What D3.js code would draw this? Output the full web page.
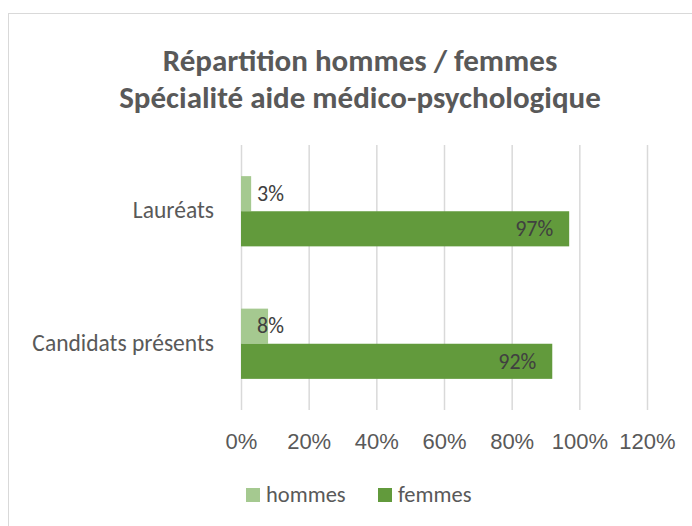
<!DOCTYPE html>
<html lang="fr">
<head>
<meta charset="UTF-8">
<title>Répartition hommes / femmes</title>
<script src="https://d3js.org/d3.v7.min.js"></script>
<style>
  body { margin: 0; background: #fff; }
  svg { font-family: Carlito, Lato, "Open Sans", sans-serif; }
  .grid line { stroke: #d9d9d9; stroke-width: 1.5; }
  .xaxis .tick text { fill: #595959; font-size: 22px; }
</style>
</head>
<body>
<svg width="692" height="526"></svg>
<script>
// données
const categories = ["Lauréats", "Candidats présents"];
const series = ["hommes", "femmes"];
const hommes = [0.03, 0.08];
const femmes = [0.97, 0.92];
const xTicks = [0, 0.2, 0.4, 0.6, 0.8, 1.0, 1.2];
const colors = ["#a5c990", "#629a3c"];

const svg = d3.select("svg");

// cadre du graphique
svg.append("rect")
  .attr("x", 8.5).attr("y", 13.5)
  .attr("width", 700).attr("height", 600)
  .attr("fill", "#fff").attr("stroke", "#d9d9d9");

// titre
const title = svg.append("text")
  .attr("text-anchor", "middle")
  .attr("fill", "#595959")
  .attr("font-size", 31)
  .attr("font-weight", "bold");
title.append("tspan").attr("x", 360).attr("y", 71).text("Répartition hommes / femmes");
title.append("tspan").attr("x", 360).attr("y", 108).text("Spécialité aide médico-psychologique");

const x = d3.scaleLinear().domain([0, 1.2]).range([241, 647]);
const y = d3.scaleBand().domain(categories).range([145, 410]).paddingInner(0.47).paddingOuter(0.235);
const ySub = d3.scaleBand().domain(series).range([0, y.bandwidth()]);

// grille verticale
svg.append("g")
  .attr("class", "grid")
  .attr("transform", "translate(0,410)")
  .call(d3.axisBottom(x).tickValues(xTicks).tickSize(-265).tickFormat(""))
  .call(g => g.select(".domain").remove());

// axe des x
svg.append("g")
  .attr("class", "xaxis")
  .attr("transform", "translate(0,449)")
  .call(d3.axisBottom(x).tickValues(xTicks).tickSize(0).tickPadding(0).tickFormat(d3.format(".0%")))
  .call(g => g.select(".domain").remove())
  .call(g => g.selectAll("text").attr("y", 0).attr("dy", 0));

// libellés des catégories
svg.append("g")
  .selectAll("text")
  .data(categories)
  .join("text")
  .attr("x", 214)
  .attr("y", d => y(d) + y.bandwidth() / 2)
  .attr("dy", "0.3em")
  .attr("text-anchor", "end")
  .attr("fill", "#595959")
  .attr("font-size", 23.5)
  .text(d => d);

const rows = categories.map((c, i) => ({ cat: c, values: [hommes[i], femmes[i]] }));

const groups = svg.append("g")
  .selectAll("g")
  .data(rows)
  .join("g")
  .attr("transform", d => `translate(0,${y(d.cat)})`);

groups.selectAll("rect")
  .data(d => d.values.map((v, j) => ({ s: series[j], v, j })))
  .join("rect")
  .attr("x", x(0))
  .attr("y", d => ySub(d.s))
  .attr("width", d => x(d.v) - x(0))
  .attr("height", ySub.bandwidth())
  .attr("fill", d => colors[d.j]);

// étiquettes de données
groups.selectAll("text.lbl")
  .data(d => d.values.map((v, j) => ({ s: series[j], v, j })))
  .join("text")
  .attr("class", "lbl")
  .attr("x", d => d.j === 0 ? x(0) + 16 : x(d.v) - 16)
  .attr("y", d => ySub(d.s) + ySub.bandwidth() / 2)
  .attr("dy", "0.33em")
  .attr("text-anchor", d => d.j === 0 ? "start" : "end")
  .attr("fill", "#404040")
  .attr("font-size", 22)
  .text(d => d3.format(".0%")(d.v));

// légende
const legend = svg.append("g")
  .selectAll("g")
  .data(series)
  .join("g")
  .attr("transform", (d, i) => `translate(${[246, 378][i]},488)`);
legend.append("rect")
  .attr("width", 14).attr("height", 14)
  .attr("fill", (d, i) => colors[i]);
legend.append("text")
  .attr("x", 20).attr("y", 14)
  .attr("fill", "#595959")
  .attr("font-size", 22.5)
  .text(d => d);
</script>
</body>
</html>
